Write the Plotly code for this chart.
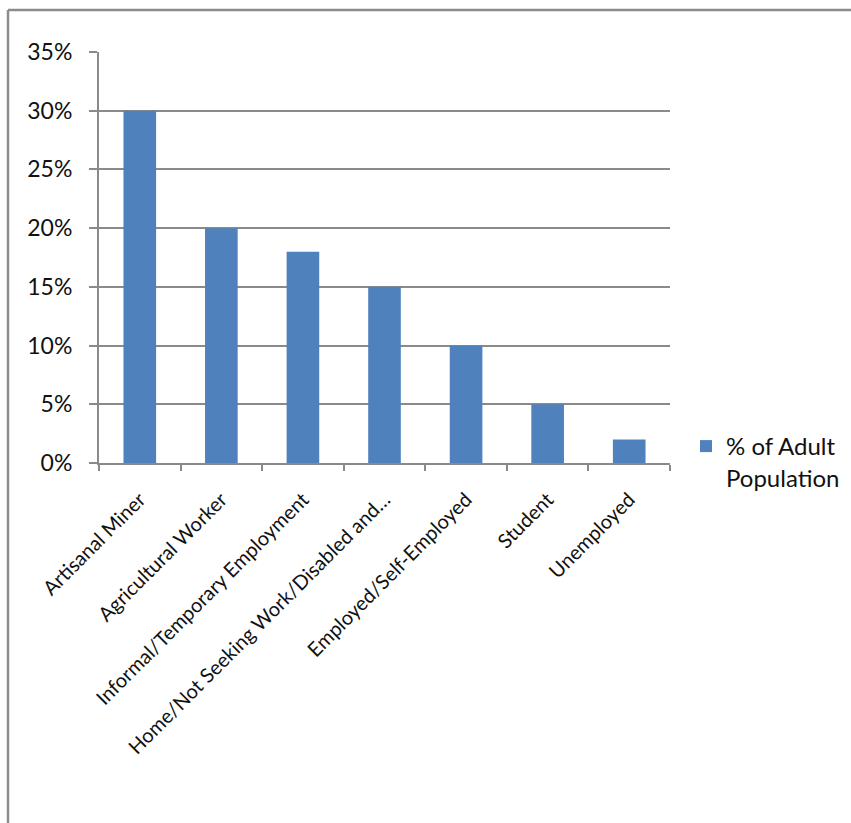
import plotly.graph_objects as go

categories = [
    "Artisanal Miner",
    "Agricultural Worker",
    "Informal/Temporary Employment",
    "Home/Not Seeking Work/Disabled and…",
    "Employed/Self-Employed",
    "Student",
    "Unemployed",
]
share_pct = [30, 20, 18, 15, 10, 5, 2]
series_name = "% of Adult<br>Population"
y_ticks = [0, 0.05, 0.10, 0.15, 0.20, 0.25, 0.30, 0.35]

W, H = 851, 823
L, R, T, B = 99, 181, 52, 360
pw = W - L - R
ph = H - T - B

GRID = "#8a8a8a"
FONT = dict(family="Lato, 'Open Sans', sans-serif", size=22, color="#111111")

fig = go.Figure(
    go.Bar(
        x=categories,
        y=[v / 100 for v in share_pct],
        name=series_name,
        marker=dict(color="#4F81BD", line=dict(width=0)),
        showlegend=True,
    )
)


def px_x(p):
    return (p - L) / pw


def px_y(p):
    return (H - B - p) / ph


# outer chart-area frame (top and left edges)
frame = dict(type="line", xref="paper", yref="paper", line=dict(color="#8c8c8c", width=2.5))
fig.add_shape(**frame, x0=px_x(8), y0=px_y(10), x1=px_x(W + 5), y1=px_y(10))
fig.add_shape(**frame, x0=px_x(8), y0=px_y(10), x1=px_x(8), y1=px_y(H + 5))

fig.update_layout(
    width=W,
    height=H,
    margin=dict(l=L, r=R, t=T, b=B, autoexpand=False),
    paper_bgcolor="white",
    plot_bgcolor="white",
    font=FONT,
    bargap=0.6,
    legend=dict(
        x=px_x(686),
        y=px_y(424),
        xanchor="left",
        yanchor="top",
        valign="top",
        font=dict(size=24, color="#111111"),
        bgcolor="rgba(0,0,0,0)",
        itemwidth=30,
    ),
    xaxis=dict(
        type="category",
        tickangle=-45,
        showgrid=False,
        showline=True,
        linecolor=GRID,
        linewidth=2,
        ticks="outside",
        tickson="boundaries",
        ticklen=6,
        tickwidth=2,
        tickcolor=GRID,
        ticklabelstandoff=15,
        tickfont=dict(size=20),
    ),
    yaxis=dict(
        range=[0, 0.35],
        tickvals=y_ticks,
        tickformat=".0%",
        showgrid=True,
        gridcolor=GRID,
        gridwidth=2,
        showline=True,
        linecolor=GRID,
        linewidth=2,
        ticks="outside",
        ticklen=8,
        tickwidth=2,
        tickcolor=GRID,
        zeroline=False,
        ticklabelstandoff=12,
        tickfont=dict(size=23),
    ),
)

fig.write_html("out.html")
